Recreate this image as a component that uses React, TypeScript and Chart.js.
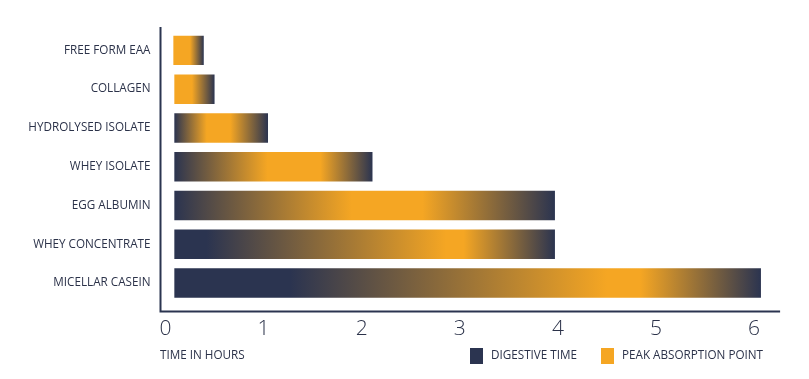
import React, { useEffect, useRef } from "react";
import { Chart, registerables } from "chart.js";

Chart.register(...registerables);

// ---- data ----
const categories = [
  "FREE FORM EAA",
  "COLLAGEN",
  "HYDROLYSED ISOLATE",
  "WHEY ISOLATE",
  "EGG ALBUMIN",
  "WHEY CONCENTRATE",
  "MICELLAR CASEIN",
];
const startHours = [0.08, 0.09, 0.09, 0.09, 0.09, 0.09, 0.09];
const endHours = [0.39, 0.5, 1.045, 2.11, 3.97, 3.97, 6.07];
// digestive (navy) colour held until this hour
const navyUntil = [0.08, 0.09, 0.09, 0.09, 0.09, 0.42, 1.27];
// peak absorption (orange) range, in hours
const peakFrom = [0.08, 0.09, 0.42, 1.04, 1.9, 2.86, 4.5];
const peakTo = [0.25, 0.27, 0.66, 1.58, 2.62, 3.04, 4.84];
const xTickValues = [0, 1, 2, 3, 4, 5, 6];
const legendLabels = ["DIGESTIVE TIME", "PEAK ABSORPTION POINT"];
const axisTitle = "TIME IN HOURS";

const NAVY = "#2b3450";
const ORANGE = "#f5a623";
const TEXT = "#2b3249";
const FONT = "'Open Sans', 'Noto Sans', sans-serif";

function barGradient(chart: any, i: number) {
  const x = chart.scales && chart.scales.x;
  if (!x) return ORANGE;
  const s = startHours[i];
  const e = endHours[i];
  const px0 = x.getPixelForValue(s);
  const px1 = x.getPixelForValue(e);
  if (!isFinite(px0) || !isFinite(px1) || px1 <= px0) return ORANGE;
  const g = chart.ctx.createLinearGradient(px0, 0, px1, 0);
  const off = (v: number) => Math.min(1, Math.max(0, (v - s) / (e - s)));
  if (peakFrom[i] > s) {
    g.addColorStop(0, NAVY);
    g.addColorStop(off(navyUntil[i]), NAVY);
  }
  g.addColorStop(off(peakFrom[i]), ORANGE);
  g.addColorStop(off(peakTo[i]), ORANGE);
  g.addColorStop(1, NAVY);
  return g;
}

const decorPlugin = {
  id: "decor",
  afterDraw(chart: any) {
    const { ctx, chartArea } = chart;
    ctx.save();
    // axis lines
    ctx.strokeStyle = NAVY;
    ctx.lineWidth = 2;
    ctx.beginPath();
    ctx.moveTo(chartArea.left - 5, 27);
    ctx.lineTo(chartArea.left - 5, chartArea.bottom + 9.6);
    ctx.moveTo(chartArea.left - 6, chartArea.bottom + 9);
    ctx.lineTo(chartArea.right + 1.5, chartArea.bottom + 9);
    ctx.stroke();

    // axis title and legend
    ctx.font = `11.7px ${FONT}`;
    ctx.textBaseline = "middle";
    ctx.textAlign = "left";
    ctx.fillStyle = TEXT;
    const ty = 355.5;
    ctx.fillText(axisTitle, 160, ty);

    const colors = [NAVY, ORANGE];
    const boxX = [470, 601];
    legendLabels.forEach((lab, k) => {
      ctx.fillStyle = colors[k];
      ctx.fillRect(boxX[k], 348, 13, 16);
      ctx.fillStyle = TEXT;
      ctx.fillText(lab, boxX[k] + 21, ty);
    });
    ctx.restore();
  },
};

export default function App() {
  const ref = useRef<HTMLCanvasElement | null>(null);
  useEffect(() => {
    if (!ref.current) return;
    const chart = new Chart(ref.current, {
      type: "bar",
      data: {
        labels: categories,
        datasets: [
          {
            label: "Time",
            data: categories.map((_, i) => [startHours[i], endHours[i]]) as any,
            backgroundColor: (c: any) =>
              c.type === "data" ? barGradient(c.chart, c.dataIndex) : ORANGE,
            borderWidth: 0,
            borderSkipped: false,
            barPercentage: 0.76,
            categoryPercentage: 1,
          },
        ],
      },
      options: {
        indexAxis: "y",
        animation: false,
        responsive: true,
        maintainAspectRatio: false,
        layout: { padding: { top: 31, right: 30.4, left: 0, bottom: 0 } },
        plugins: {
          legend: { display: false },
          tooltip: { enabled: false },
        },
        scales: {
          x: {
            type: "linear",
            min: 0,
            max: 6.25,
            afterFit: (s: any) => {
              s.height = 76.6;
            },
            afterBuildTicks: (s: any) => {
              s.ticks = xTickValues.map((v) => ({ value: v }));
            },
            grid: { display: false, drawTicks: false },
            border: { display: false },
            ticks: {
              padding: 14,
              color: TEXT,
              font: { family: FONT, size: 21, weight: 300 as any },
              maxRotation: 0,
            },
          },
          y: {
            afterFit: (s: any) => {
              s.width = 165.5;
            },
            grid: { display: false, drawTicks: false },
            border: { display: false },
            ticks: {
              padding: 15,
              color: TEXT,
              font: { family: FONT, size: 11.7 },
            },
          },
        },
      },
      plugins: [decorPlugin],
    });
    return () => chart.destroy();
  }, []);
  return (
    <div style={{ position: "fixed", left: 0, top: 0, width: 809, height: 379, background: "#fff" }}>
      <canvas ref={ref} />
    </div>
  );
}
